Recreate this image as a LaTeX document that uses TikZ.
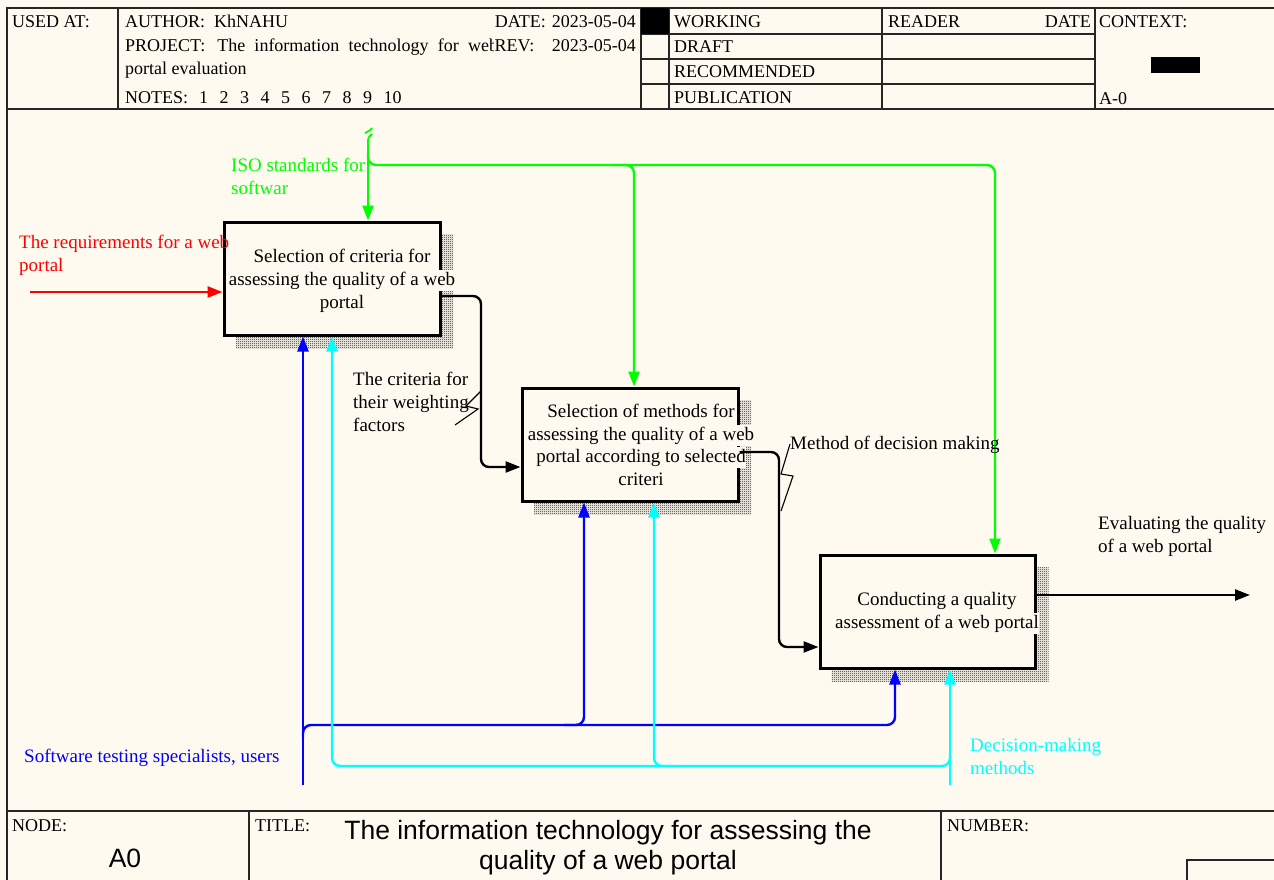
\documentclass[tikz,border=0pt]{standalone}
\usepackage{fontspec}
\setmainfont{Liberation Serif}
\newfontfamily\sansfont{Liberation Sans}
\usetikzlibrary{arrows.meta,patterns.meta,calc}

\definecolor{paper}{HTML}{FFFAF0}
\definecolor{idefred}{HTML}{FF0000}
\definecolor{idefgreen}{HTML}{00FF00}
\definecolor{idefblue}{HTML}{0000FF}
\definecolor{idefcyan}{HTML}{00FFFF}

% fine mesh used for the drop shadows of the activity boxes
\tikzdeclarepattern{
  name=shadowmesh,
  type=uncolored,
  bottom left={(0pt,0pt)},
  top right={(2pt,2pt)},
  tile size={(2pt,2pt)},
  code={
    \pgfpathrectangle{\pgfpoint{0pt}{0pt}}{\pgfpoint{1pt}{1pt}}
    \pgfpathrectangle{\pgfpoint{1pt}{1pt}}{\pgfpoint{1pt}{1pt}}
    \pgfusepath{fill}
  }
}

\begin{document}
\begin{tikzpicture}[x=1pt,y=-1pt,
  rule/.style={draw=black!85, line width=1.5pt},
  hdr/.style={font=\fontsize{18}{22}\selectfont, inner sep=0pt, anchor=base west},
  lab/.style={font=\fontsize{19}{23}\selectfont, inner sep=0pt, anchor=base west, align=left},
  func/.style={draw=black, line width=3pt, fill=paper, inner sep=0pt,
               minimum width=216pt, minimum height=113pt},
  btext/.style={font=\fontsize{19}{23}\selectfont, fill=paper, inner xsep=0.5pt,
                inner ysep=2pt, anchor=base},
  shadowfill/.style={pattern=shadowmesh, pattern color=black!90},
  flow/.style={line width=2.4pt, rounded corners=8pt},
  arr/.style={flow, -{Triangle[length=15pt,width=11pt]}},
  squig/.style={line width=1.1pt},
  bigsans/.style={font=\sansfont\fontsize{26.5}{30}\selectfont, inner sep=0pt, anchor=base}
]
\useasboundingbox (0,0) rectangle (1274,880);
\fill[paper] (0,0) rectangle (1274,880);
\clip (0,0) rectangle (1274,880);

% ---------- form frame ----------
\draw[rule] (7,880) -- (7,8) -- (1280,8);
\draw[rule] (7,109) -- (1280,109);
\draw[rule] (7,811) -- (1280,811);
\draw[rule] (118,8) -- (118,109);
\draw[rule] (641,8) -- (641,109);
\draw[rule] (669,8) -- (669,109);
\draw[rule] (882,8) -- (882,109);
\draw[rule] (1095,8) -- (1095,109);
\draw[rule] (641,34) -- (1095,34);
\draw[rule] (641,59) -- (1095,59);
\draw[rule] (641,84) -- (1095,84);
\fill[black] (641,8) rectangle (669,34);
\fill[black] (1151,57) rectangle (1200,73);
\draw[rule] (249,811) -- (249,880);
\draw[rule] (941,811) -- (941,880);
\draw[rule] (1280,860) -- (1187,860) -- (1187,885);

% ---------- header texts ----------
\node[hdr] (usedat) at (12,28) {USED AT:};
\node[hdr] (author) at (125,28) {AUTHOR:\ \ KhNAHU};
\node[hdr, anchor=base east] (date) at (636,28) {DATE:\hspace{6pt}2023-05-04};
\node[hdr] (project) at (125,52) {\spaceskip=9.2pt PROJECT:\hspace{12pt}The information technology for web};
\node[hdr, fill=paper, inner xsep=0.5pt] (rev) at (494,52) {REV:};
\node[hdr, anchor=base east] (revdate) at (636,52) {2023-05-04};
\node[hdr] (project2) at (125,75) {portal evaluation};
\node[hdr] (notes) at (125,104) {NOTES:\hspace{11pt}1\hspace{11.5pt}2\hspace{11.5pt}3\hspace{11.5pt}4\hspace{11.5pt}5\hspace{11.5pt}6\hspace{11.5pt}7\hspace{11.5pt}8\hspace{11.5pt}9\hspace{11.5pt}10};
\node[hdr] (working) at (674,28) {WORKING};
\node[hdr] (draft) at (674,53) {DRAFT};
\node[hdr] (recommended) at (674,78) {RECOMMENDED};
\node[hdr] (publication) at (674,104) {PUBLICATION};
\node[hdr] (reader) at (888,28) {READER};
\node[hdr, anchor=base east] (rdate) at (1091,28) {DATE};
\node[hdr] (context) at (1099,28) {CONTEXT:};
\node[hdr] (ctxnode) at (1099,105) {A-0};

% ---------- footer texts ----------
\node[hdr] (nodelbl) at (12,831) {NODE:};
\node[hdr] (titlelbl) at (255,831) {TITLE:};
\node[hdr] (numberlbl) at (947,831) {NUMBER:};
\node[bigsans] (nodeid) at (125,867) {A0};
\node[bigsans] (title1) at (608,839) {The information technology for assessing the};
\node[bigsans] (title2) at (608,869) {quality of a web portal};

% ---------- activity boxes with shadows ----------
\coordinate (c1) at (332,278.5);
\coordinate (c2) at (630,444.5);
\coordinate (c3) at (927.5,611.5);
\fill[shadowfill] ($(c1)+(-96,-44)$) rectangle ($(c1)+(121,70)$);
\fill[shadowfill] ($(c2)+(-96,-44)$) rectangle ($(c2)+(121,70)$);
\fill[shadowfill] ($(c3)+(-96,-44)$) rectangle ($(c3)+(121,70)$);
\node[func] (b1) at (c1) {};
\node[func] (b2) at (c2) {};
\node[func, minimum width=215pt] (b3) at (c3) {};

\node[btext] (b1t1) at (342,262) {Selection of criteria for};
\node[btext] (b1t2) at (342,285) {assessing the quality of a web};
\node[btext] (b1t3) at (342,308) {portal};

\node[btext] (b2t1) at (641,417) {Selection of methods for};
\node[btext] (b2t2) at (641,440) {assessing the quality of a web};
\node[btext] (b2t3) at (641,462) {portal according to selected};
\node[btext] (b2t4) at (641,485) {criteri};

\node[btext] (b3t1) at (937,605) {Conducting a quality};
\node[btext] (b3t2) at (937,628) {assessment of a web portal};

% ---------- input ----------
\coordinate (reqsrc) at (30,292);
\draw[arr, idefred] (reqsrc) -- (reqsrc -| b1.west);

% ---------- controls ----------
\coordinate (isosrc) at (368,140);
\coordinate (gA) at (368,165);
\coordinate (gB) at (634,165);
\coordinate (gC) at (995,165);
\draw[arr, idefgreen, rounded corners=0pt] (isosrc) -- (isosrc |- b1.north);
\draw[arr, idefgreen] ($(gA)+(0,-12)$) -- (gA) -- (gC) -- (gC |- b3.north);
\draw[arr, idefgreen] ($(gB)+(-20,0)$) -- (gB) -- (gB |- b2.north);
\draw[idefgreen, line width=1.8pt] (368,141) .. controls (368,137) and (370,136) .. (372,134);
\draw[idefgreen, line width=1.8pt] (365,133) .. controls (367,131) and (369,132) .. (372,128);

% ---------- flows between activities ----------
\coordinate (k1) at (481,296);
\coordinate (k2) at (481,467);
\draw[arr] (b1.east |- k1) -- (k1) -- (k2) -- (k2 -| b2.west);
\coordinate (k3) at (779,452);
\coordinate (k4) at (779,647);
\draw[arr] (b2.east |- k3) -- (k3) -- (k4) -- (k4 -| b3.west);
\coordinate (outend) at (1250,595);
\draw[arr] (b3.east |- outend) -- (outend);

\draw[squig] (481,391) -- (466,406) -- (478,409) -- (455,425);
\draw[squig] (790,444) -- (781,474) -- (793,476) -- (781,511);

% ---------- mechanisms ----------
\coordinate (mechA) at (303,785);
\coordinate (mA) at (303,725);
\coordinate (mB) at (584,725);
\coordinate (mC) at (895,725);
\draw[arr, idefblue, rounded corners=0pt] (mechA) -- (mechA |- b1.south);
\draw[arr, idefblue] ($(mA)+(0,12)$) -- (mA) -- (mC) -- (mC |- b3.south);
\draw[arr, idefblue] ($(mB)+(-20,0)$) -- (mB) -- (mB |- b2.south);

\coordinate (mechB) at (950,785);
\coordinate (nA) at (950,766);
\coordinate (nB) at (654,766);
\coordinate (nC) at (332,766);
\draw[arr, idefcyan, rounded corners=0pt] (mechB) -- (mechB |- b3.south);
\draw[arr, idefcyan] ($(nA)+(0,-12)$) -- (nA) -- (nC) -- (nC |- b1.south);
\draw[arr, idefcyan] ($(nB)+(20,0)$) -- (nB) -- (nB |- b2.south);

% ---------- arrow labels (anchored at the baseline of the last line) ----------
\node[lab, text=idefred] (reqlbl) at (19,271) {The requirements for a web\\portal};
\node[lab, text=idefgreen] (isolbl) at (231,194) {ISO standards for\\softwar};
\node[lab] (critlbl) at (353,431) {The criteria for\\their weighting\\factors};
\node[lab] (methlbl) at (790,449) {Method of decision making};
\node[lab] (evallbl) at (1098,552) {Evaluating the quality\\of a web portal};
\node[lab, text=idefblue] (speclbl) at (24,762) {Software testing specialists, users};
\node[lab, text=idefcyan] (dmlbl) at (970,774) {Decision-making\\methods};
\end{tikzpicture}
\end{document}
